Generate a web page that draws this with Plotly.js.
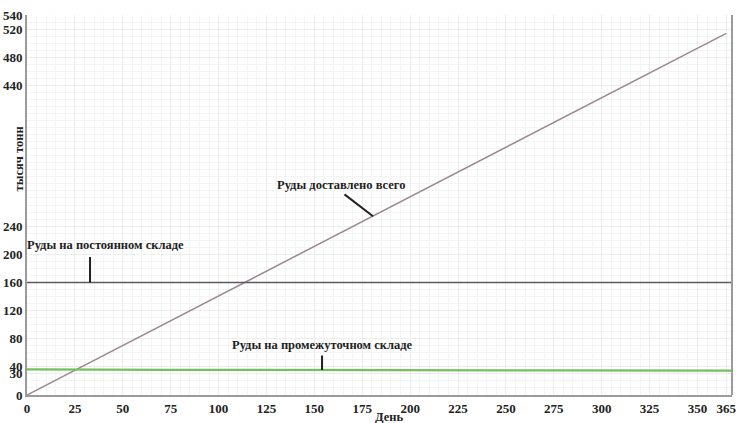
<!DOCTYPE html>
<html>
<head>
<meta charset="utf-8">
<script src="https://cdn.plot.ly/plotly-3.0.1.min.js"></script>
<style>html,body{margin:0;padding:0;background:#fff;}#chart{width:738px;height:423px;}</style>
</head>
<body>
<div id="chart"></div>
<script>
// Data
const deliveredDays = [0, 365];
const deliveredTotal = [0, 514];
const permanentDays = [0, 368];
const permanentStock = [160, 160];
const bufferDays = [0, 25, 50, 75, 100, 125, 150, 175, 200, 225, 250, 275, 300, 325, 350, 368];
const bufferStock = [36.5, 36, 35.8, 35.6, 35.8, 35.5, 35.7, 35.3, 35.2, 35.1, 35.0, 34.9, 34.8, 34.7, 34.6, 34.5];
const xTicks = [0, 25, 50, 75, 100, 125, 150, 175, 200, 225, 250, 275, 300, 325, 350, 365];
const yTicks = [0, 30, 40, 80, 120, 160, 200, 240, 440, 480, 520, 540];
const labelDelivered = 'Руды доставлено всего';
const labelPermanent = 'Руды на постоянном складе';
const labelBuffer = 'Руды на промежуточном складе';
const xTitle = 'День';
const yTitle = 'тысяч тонн';

const serif = 'Times New Roman';

const traces = [
  {x: deliveredDays, y: deliveredTotal, mode: 'lines', line: {color: '#9c8692', width: 1.5}, hoverinfo: 'skip'},
  {x: permanentDays, y: permanentStock, mode: 'lines', line: {color: '#5a5a60', width: 1.5}, hoverinfo: 'skip'},
  {x: bufferDays, y: bufferStock, mode: 'lines', line: {color: '#72c05e', width: 2.2}, hoverinfo: 'skip'}
];

const tf = {family: serif, size: 13, color: '#222', weight: 'bold'};
const af = {family: serif, size: 12.5, color: '#222', weight: 'bold'};

const layout = {
  width: 738, height: 423,
  margin: {l: 27, r: 6, t: 15, b: 28},
  paper_bgcolor: '#fff', plot_bgcolor: '#fff',
  font: {family: serif},
  showlegend: false,
  xaxis: {
    range: [0, 368], tickvals: xTicks, ticktext: xTicks.map(String),
    tickfont: tf, showline: true, linecolor: '#9a9a9a', linewidth: 2, mirror: false,
    ticklabeloverflow: 'allow',
    gridcolor: '#eceeec', gridwidth: 1, zeroline: false, ticks: '', ticklen: 0,
    minor: {dtick: 5, tick0: 0, showgrid: true, gridcolor: '#f3f5f3', gridwidth: 1}
  },
  yaxis: {
    range: [0, 540], tickvals: yTicks, ticktext: yTicks.map(String),
    tickfont: tf, showline: true, linecolor: '#9a9a9a', linewidth: 2,
    ticklabeloverflow: 'allow',
    gridcolor: '#eceeec', gridwidth: 1, zeroline: false, ticks: '',
    minor: {dtick: 10, tick0: 0, showgrid: true, gridcolor: '#f3f5f3', gridwidth: 1}
  },
  shapes: [
    {type: 'line', xref: 'paper', yref: 'paper', x0: 1, x1: 1, y0: 0, y1: 1, line: {color: '#9a9a9a', width: 2}}
  ],
  annotations: [
    {x: 180.6, y: 254, xref: 'x', yref: 'y', text: '', showarrow: true, arrowhead: 0, arrowwidth: 2, arrowcolor: '#222', ax: -30, ay: -23},
    {x: 180.6, y: 254, xref: 'x', yref: 'y', text: labelDelivered, showarrow: false, xshift: -32, yshift: 31, font: af},
    {x: 32.9, y: 160, xref: 'x', yref: 'y', text: '', showarrow: true, arrowhead: 0, arrowwidth: 2, arrowcolor: '#222', ax: 0, ay: -27},
    {x: 32.9, y: 160, xref: 'x', yref: 'y', text: labelPermanent, showarrow: false, xshift: 15, yshift: 37, font: af},
    {x: 154, y: 35.5, xref: 'x', yref: 'y', text: '', showarrow: true, arrowhead: 0, arrowwidth: 2, arrowcolor: '#222', ax: 0, ay: -16},
    {x: 154, y: 35.5, xref: 'x', yref: 'y', text: labelBuffer, showarrow: false, xshift: 0, yshift: 25, font: af},
    {x: 0.5, y: 0, xref: 'paper', yref: 'paper', text: xTitle, showarrow: false, xshift: 10, yshift: -30.5, font: af},
    {x: 0, y: 0.62, xref: 'paper', yref: 'paper', text: yTitle, textangle: -90, showarrow: false, xshift: -17, font: af}
  ]
};

Plotly.newPlot('chart', traces, layout, {displayModeBar: false, staticPlot: true});
</script>
</body>
</html>
